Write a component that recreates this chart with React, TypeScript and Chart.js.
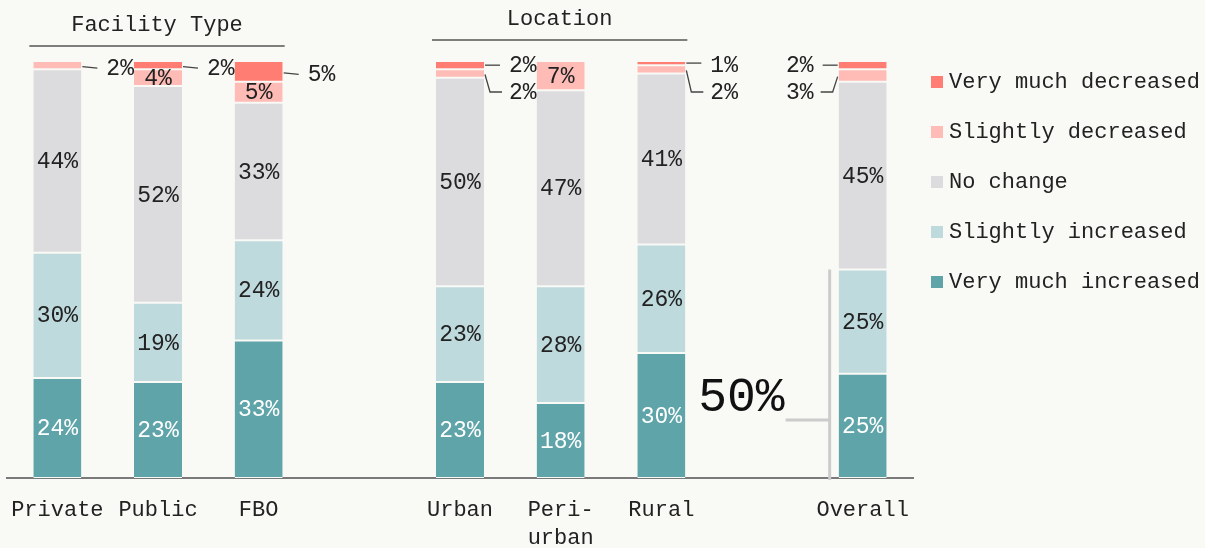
import React, { useEffect, useRef } from "react";
import { Chart, registerables } from "chart.js";

Chart.register(...registerables);

// ---- data ----
const categories: (string | string[])[] = ["Private", "Public", "FBO", "", "Urban", ["Peri-", "urban"], "Rural", "", "Overall"];
const veryMuchIncreased = [24, 23, 33, null, 23, 18, 30, null, 25];
const slightlyIncreased = [30, 19, 24, null, 23, 28, 26, null, 25];
const noChange = [44, 52, 33, null, 50, 47, 41, null, 45];
const slightlyDecreased = [2, 4, 5, null, 2, 7, 2, null, 3];
const veryMuchDecreased = [0, 2, 5, null, 2, 0, 1, null, 2];
const seriesNames = ["Very much increased", "Slightly increased", "No change", "Slightly decreased", "Very much decreased"];
const seriesColors = ["#5fa4a9", "#bfdadd", "#dcdcdf", "#ffbcb6", "#ff7d72"];
const groupHeaders = [
  { text: "Facility Type", from: 0, to: 2, lift: 0 },
  { text: "Location", from: 4, to: 6, lift: 6 },
];
const scaleMarkValue = 50;
const scaleMarkText = "50%";

const BG = "#f9f9f5";
const FONT = "'Liberation Mono', 'DejaVu Sans Mono', monospace";
const TEXT = "#222222";

const overlay = {
  id: "overlay",
  beforeDraw(chart: any) {
    const ctx = chart.ctx;
    ctx.save();
    ctx.fillStyle = BG;
    ctx.fillRect(0, 0, chart.width, chart.height);
    ctx.restore();
  },
  afterDatasetsDraw(chart: any) {
    const ctx = chart.ctx;
    const xs = chart.scales.x;
    const ys = chart.scales.y;
    const yTop = ys.getPixelForValue(100);
    const yBase = ys.getPixelForValue(0);
    const nCat = categories.length;
    const barW = chart.getDatasetMeta(0).data[0].width;
    ctx.save();
    ctx.textBaseline = "middle";

    for (let j = 0; j < nCat; j++) {
      const outside: { i: number; v: number; cy: number }[] = [];
      ctx.font = `23px ${FONT}`;
      for (let i = 0; i < chart.data.datasets.length; i++) {
        const v = chart.data.datasets[i].data[j];
        if (v == null || v === 0) continue;
        const el = chart.getDatasetMeta(i).data[j];
        const cy = (el.y + el.base) / 2;
        const inside = i <= 2 || (i === 3 && v >= 4);
        if (inside) {
          ctx.fillStyle = i === 0 ? "#ffffff" : TEXT;
          ctx.textAlign = "center";
          ctx.fillText(`${v}%`, el.x, cy + 1);
        } else {
          outside.push({ i, v, cy });
        }
      }
      if (!outside.length) continue;
      const cx = xs.getPixelForValue(j);
      const left = j === nCat - 1;
      const dir = left ? -1 : 1;
      const edge = cx + dir * (barW / 2 + 1);
      ctx.strokeStyle = "#444";
      ctx.lineWidth = 1.3;
      ctx.fillStyle = TEXT;
      ctx.textAlign = left ? "right" : "left";
      if (outside.length === 1) {
        const o = outside[0];
        const ly = o.cy + 3.5;
        ctx.beginPath();
        ctx.moveTo(edge, o.cy + 1.5);
        ctx.lineTo(edge + dir * 15, ly - 0.5);
        ctx.stroke();
        ctx.fillText(`${o.v}%`, edge + dir * 24, ly);
      } else {
        outside.sort((a, b) => b.i - a.i);
        outside.forEach((o, k) => {
          const ly = yTop + 5 + k * 27;
          ctx.beginPath();
          if (k === 0) {
            ctx.moveTo(edge, o.cy);
            ctx.lineTo(edge + dir * 15, o.cy);
          } else {
            ctx.moveTo(edge, o.cy + 1);
            ctx.lineTo(edge + dir * 5, ly - 1);
            ctx.lineTo(edge + dir * 17, ly - 1);
          }
          ctx.stroke();
          ctx.fillText(`${o.v}%`, edge + dir * 24, ly);
        });
      }
    }

    // group headers
    ctx.font = `22px ${FONT}`;
    groupHeaders.forEach((g) => {
      const l = xs.getPixelForValue(g.from) - barW / 2 - 4;
      const r = xs.getPixelForValue(g.to) + barW / 2 + 2;
      const ly = yTop - 15 - g.lift;
      ctx.strokeStyle = "#555";
      ctx.lineWidth = 1.6;
      ctx.beginPath();
      ctx.moveTo(l, ly);
      ctx.lineTo(r, ly);
      ctx.stroke();
      ctx.fillStyle = TEXT;
      ctx.textAlign = "center";
      ctx.fillText(g.text, (l + r) / 2, ly - 21);
    });

    // scale marker
    const lastX = xs.getPixelForValue(nCat - 1) - barW / 2 - 9;
    const y50 = ys.getPixelForValue(scaleMarkValue);
    ctx.strokeStyle = "#cccccc";
    ctx.lineWidth = 3;
    ctx.beginPath();
    ctx.moveTo(lastX, y50);
    ctx.lineTo(lastX, yBase + 2);
    ctx.stroke();
    ctx.beginPath();
    ctx.moveTo(lastX - 44, yBase - 58);
    ctx.lineTo(lastX, yBase - 58);
    ctx.stroke();
    ctx.font = `48px ${FONT}`;
    ctx.textAlign = "right";
    ctx.textBaseline = "alphabetic";
    ctx.fillStyle = "#111";
    ctx.fillText(scaleMarkText, lastX - 45, yBase - 67);

    // legend
    ctx.font = `22px ${FONT}`;
    ctx.textBaseline = "middle";
    ctx.textAlign = "left";
    const lx = chart.chartArea.right + 18;
    for (let k = 0; k < seriesNames.length; k++) {
      const idx = seriesNames.length - 1 - k;
      const cy = yTop + 21 + k * 50;
      ctx.fillStyle = seriesColors[idx];
      ctx.fillRect(lx, cy - 6, 12, 12);
      ctx.fillStyle = TEXT;
      ctx.fillText(seriesNames[idx], lx + 18, cy);
    }
    ctx.restore();
  },
};

export default function App() {
  const ref = useRef<HTMLCanvasElement | null>(null);
  useEffect(() => {
    if (!ref.current) return;
    const series = [veryMuchIncreased, slightlyIncreased, noChange, slightlyDecreased, veryMuchDecreased];
    const chart = new Chart(ref.current, {
      type: "bar",
      data: {
        labels: categories as any,
        datasets: series.map((d, i) => ({
          label: seriesNames[i],
          data: d as any,
          backgroundColor: seriesColors[i],
          borderColor: BG,
          borderWidth: { top: 1, bottom: 1, left: 0, right: 0 },
          borderSkipped: false,
          barPercentage: 0.477,
          categoryPercentage: 1,
        })),
      },
      options: {
        responsive: false,
        animation: false,
        devicePixelRatio: 1,
        layout: { padding: { left: 7, right: 292, top: 61, bottom: 0 } },
        plugins: { legend: { display: false }, tooltip: { enabled: false } },
        scales: {
          x: {
            stacked: true,
            grid: { display: false, drawTicks: false },
            border: { display: true, color: "#7a7a7a", width: 2 },
            ticks: {
              autoSkip: false,
              maxRotation: 0,
              padding: 18,
              color: TEXT,
              font: { family: FONT, size: 22, lineHeight: 1.27 },
            },
            afterFit: (s: any) => {
              s.height = 70;
              s.paddingLeft = 0;
              s.paddingRight = 0;
            },
          },
          y: { stacked: true, display: false, min: 0, max: 100 },
        },
      },
      plugins: [overlay],
    });
    return () => chart.destroy();
  }, []);
  return (
    <div style={{ position: "absolute", left: 0, top: 0, width: 1205, height: 548, background: BG }}>
      <canvas ref={ref} width={1205} height={548} style={{ display: "block" }} />
    </div>
  );
}
